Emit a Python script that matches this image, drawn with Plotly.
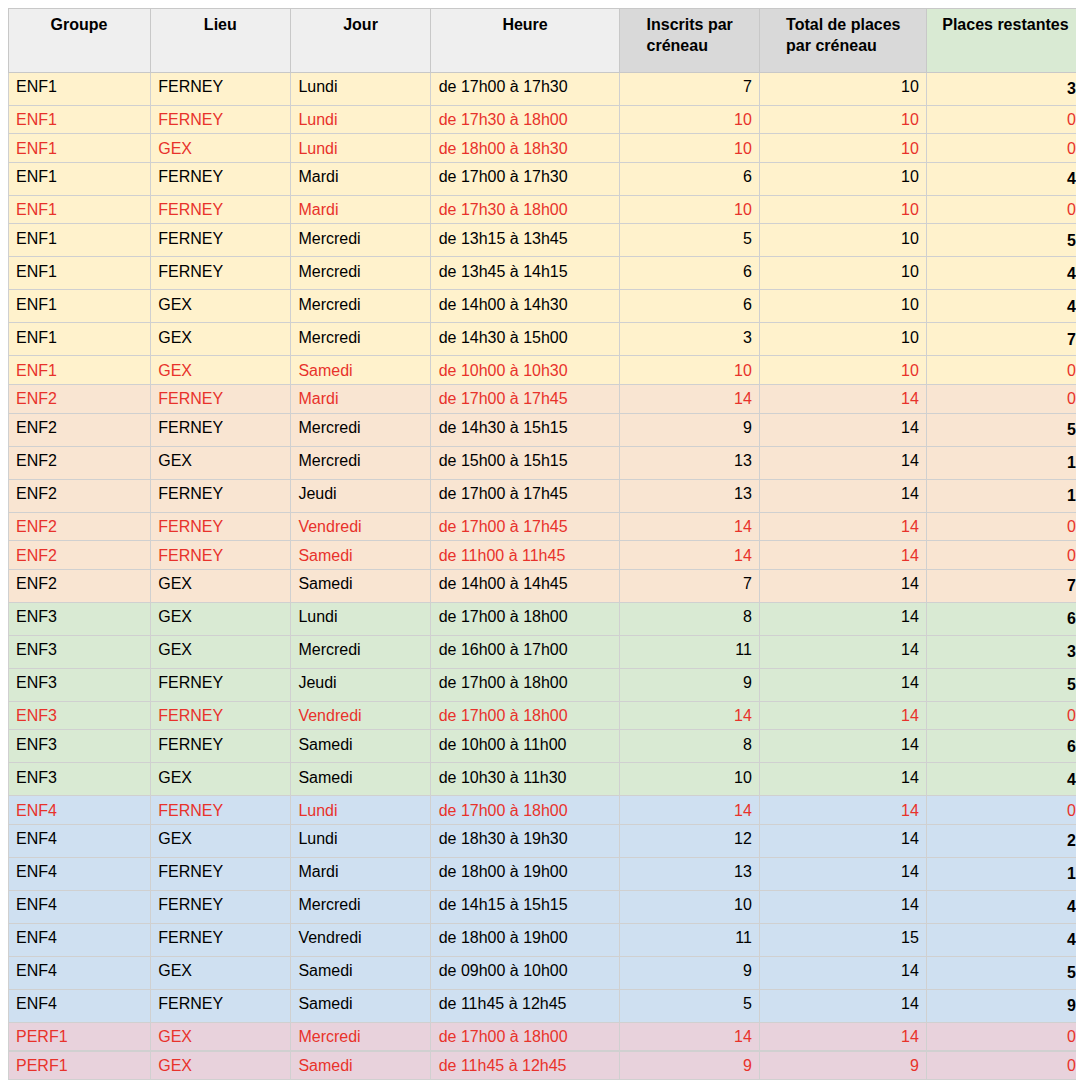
import plotly.graph_objects as go

groupe = ["ENF1"]*10 + ["ENF2"]*7 + ["ENF3"]*6 + ["ENF4"]*7 + ["PERF1"]*2 + ["PERF2"]*3
lieu = ["FERNEY","FERNEY","GEX","FERNEY","FERNEY","FERNEY","FERNEY","GEX","GEX","GEX",
        "FERNEY","FERNEY","GEX","FERNEY","FERNEY","FERNEY","GEX",
        "GEX","GEX","FERNEY","FERNEY","FERNEY","GEX",
        "FERNEY","GEX","FERNEY","FERNEY","FERNEY","GEX","FERNEY",
        "GEX","GEX",
        "FERNEY","GEX","GEX"]
jour = ["Lundi","Lundi","Lundi","Mardi","Mardi","Mercredi","Mercredi","Mercredi","Mercredi","Samedi",
        "Mardi","Mercredi","Mercredi","Jeudi","Vendredi","Samedi","Samedi",
        "Lundi","Mercredi","Jeudi","Vendredi","Samedi","Samedi",
        "Lundi","Lundi","Mardi","Mercredi","Vendredi","Samedi","Samedi",
        "Mercredi","Samedi",
        "Mercredi","Mercredi","Samedi"]
heure = ["de 17h00 à 17h30","de 17h30 à 18h00","de 18h00 à 18h30","de 17h00 à 17h30","de 17h30 à 18h00",
         "de 13h15 à 13h45","de 13h45 à 14h15","de 14h00 à 14h30","de 14h30 à 15h00","de 10h00 à 10h30",
         "de 17h00 à 17h45","de 14h30 à 15h15","de 15h00 à 15h15","de 17h00 à 17h45","de 17h00 à 17h45",
         "de 11h00 à 11h45","de 14h00 à 14h45",
         "de 17h00 à 18h00","de 16h00 à 17h00","de 17h00 à 18h00","de 17h00 à 18h00","de 10h00 à 11h00","de 10h30 à 11h30",
         "de 17h00 à 18h00","de 18h30 à 19h30","de 18h00 à 19h00","de 14h15 à 15h15","de 18h00 à 19h00",
         "de 09h00 à 10h00","de 11h45 à 12h45",
         "de 17h00 à 18h00","de 11h45 à 12h45",
         "de 13h30 à 14h30","de 18h00 à 19h00","de 11h45 à 12h45"]
inscrits = [7,10,10,6,10,5,6,6,3,10, 14,9,13,13,14,14,7, 8,11,9,14,8,10, 14,12,13,10,11,9,5, 14,9, 18,14,11]
total = [10]*10 + [14]*7 + [14]*6 + [14,14,14,14,15,14,14] + [14,9] + [20,14,12]
restantes = [t - i for t, i in zip(total, inscrits)]

headers = ["Groupe","Lieu","Jour","Heure","Inscrits par<br>créneau","Total de places<br>par créneau","Places restantes"]
header_fill = ["#efefef"]*4 + ["#d9d9d9"]*2 + ["#d9ead3"]
group_colors = {"ENF1":"#fff2cc","ENF2":"#f9e5d2","ENF3":"#d9ead3","ENF4":"#cfe0f1","PERF1":"#e8d2dc","PERF2":"#d9d3e8"}

fills = [group_colors[g] for g in groupe]
red = "#e8322b"
fcol = [red if r == 0 else "black" for r in restantes]
last = [str(r) if r == 0 else f"<b>{r}</b>" for r in restantes]

fig = go.Figure(go.Table(
    columnwidth=[143,141,141,190,141,168,158],
    header=dict(values=[f"<b>{h}</b>" for h in headers], fill_color=header_fill,
                line_color="#c8c8c8", align="center",
                font=dict(family="Liberation Sans, Arial", size=16, color="black"), height=64),
    cells=dict(values=[groupe, lieu, jour, heure, inscrits, total, last],
               fill_color=[fills]*7, line_color="#d0d0d0",
               align=["left"]*4 + ["right"]*3,
               font=dict(family="Liberation Sans, Arial", size=16, color=[fcol]*7),
               height=28.6),
))
fig.update_layout(width=1076, height=1072, margin=dict(l=0, r=0, t=0, b=0), paper_bgcolor="white")
fig.write_html("out.html")
